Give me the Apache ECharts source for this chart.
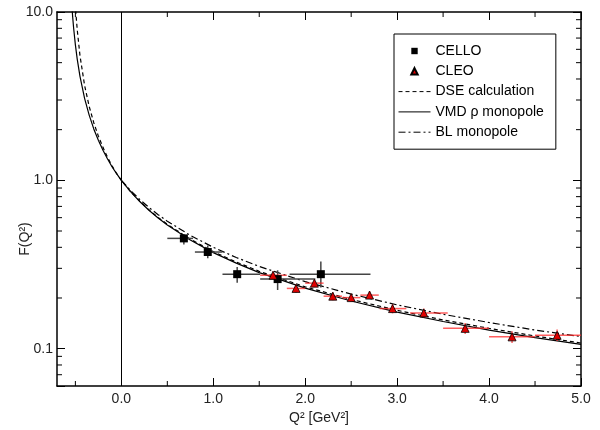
<!DOCTYPE html>
<html><head><meta charset="utf-8">
<script src="https://cdn.jsdelivr.net/npm/echarts@6/dist/echarts.min.js"></script>
<style>html,body{margin:0;padding:0;background:#fff}#c{width:600px;height:430px}</style>
</head><body><div id="c"></div>
<script>
// ---- axis ticks ----
const xMin = -0.7, xMax = 5.0, yMin = 0.06, yMax = 10;
const xMajorTicks = [0, 1, 2, 3, 4, 5];
const xMinorTicks = [-0.5, 0.5, 1.5, 2.5, 3.5, 4.5];
const yMinorTicks = [0.07, 0.08, 0.09, 0.2, 0.3, 0.4, 0.5, 0.6, 0.7, 0.8, 0.9, 2, 3, 4, 5, 6, 7, 8, 9];

// ---- CELLO data ----
const celloQ2     = [0.68, 0.94, 1.26, 1.70, 2.17];
const celloF      = [0.452, 0.375, 0.277, 0.259, 0.277];
const celloQ2Low  = [0.50, 0.80, 1.10, 1.51, 1.83];
const celloQ2High = [0.78, 1.10, 1.51, 2.11, 2.71];
const celloFLow   = [0.416, 0.344, 0.246, 0.223, 0.231];
const celloFHigh  = [0.478, 0.410, 0.306, 0.292, 0.329];

// ---- CLEO data ----
const cleoQ2     = [1.65, 1.90, 2.10, 2.30, 2.50, 2.70, 2.95, 3.29, 3.74, 4.25, 4.74];
const cleoF      = [0.273, 0.228, 0.245, 0.205, 0.201, 0.208, 0.173, 0.163, 0.132, 0.1175, 0.120];
const cleoQ2Low  = [1.51, 1.80, 2.00, 2.20, 2.40, 2.60, 2.81, 3.14, 3.50, 4.00, 4.50];
const cleoQ2High = [1.80, 2.00, 2.20, 2.40, 2.60, 2.80, 3.10, 3.55, 4.00, 4.50, 5.00];
const cleoFLow   = [0.258, 0.215, 0.232, 0.194, 0.190, 0.197, 0.162, 0.153, 0.122, 0.108, 0.111];
const cleoFHigh  = [0.288, 0.241, 0.258, 0.216, 0.212, 0.220, 0.184, 0.173, 0.142, 0.127, 0.130];

// ---- curves ----
const dseQ2 = [-0.497, -0.49, -0.48, -0.45, -0.4, -0.35, -0.3, -0.25, -0.2, -0.15, -0.1, -0.05, 0, 0.1, 0.2, 0.3, 0.4, 0.5, 0.75, 1, 1.25, 1.5, 2, 2.5, 3, 3.5, 4, 4.5, 5];
const dseF  = [10.3, 9.17, 7.86, 5.5, 3.67, 2.75, 2.2, 1.83, 1.57, 1.37, 1.215, 1.095, 1, 0.858, 0.752, 0.668, 0.602, 0.548, 0.447, 0.377, 0.327, 0.288, 0.233, 0.196, 0.169, 0.148, 0.132, 0.119, 0.108];
const vmdQ2 = [-0.535, -0.53, -0.52, -0.5, -0.48, -0.45, -0.4, -0.35, -0.3, -0.25, -0.2, -0.15, -0.1, -0.05, 0, 0.1, 0.2, 0.3, 0.4, 0.5, 0.75, 1, 1.25, 1.5, 2, 2.5, 3, 3.5, 4, 4.5, 5];
const vmdF  = [10.3, 9.42, 8.12, 6.38, 5.25, 4.15, 3.07, 2.44, 2.02, 1.73, 1.51, 1.34, 1.20, 1.092, 1, 0.856, 0.748, 0.664, 0.597, 0.543, 0.442, 0.372, 0.322, 0.283, 0.229, 0.192, 0.165, 0.145, 0.129, 0.1164, 0.106];
const blQ2  = [0, 0.1, 0.2, 0.3, 0.4, 0.5, 0.75, 1, 1.25, 1.5, 2, 2.5, 3, 3.5, 4, 4.5, 5];
const blF   = [1, 0.870, 0.770, 0.690, 0.625, 0.572, 0.471, 0.400, 0.348, 0.308, 0.250, 0.211, 0.182, 0.160, 0.143, 0.129, 0.118];

const FONT = "'Liberation Sans', Arial, sans-serif";
const zip = (a, b) => a.map((v, i) => [v, b[i]]);

function errRender(color, width) {
  return function (params, api) {
    const x = api.value(0), y = api.value(1);
    const a = api.coord([api.value(2), y]), b = api.coord([api.value(3), y]);
    const c = api.coord([x, api.value(4)]), d = api.coord([x, api.value(5)]);
    return { type: 'group', children: [
      { type: 'line', shape: { x1: a[0], y1: a[1], x2: b[0], y2: b[1] }, style: { stroke: color, lineWidth: width } },
      { type: 'line', shape: { x1: c[0], y1: c[1], x2: d[0], y2: d[1] }, style: { stroke: color, lineWidth: width } }
    ]};
  };
}

const chart = echarts.init(document.getElementById('c'), null, { renderer: 'canvas' });
const axisLineStyle = { color: '#000', width: 1.5 };
const labelStyle = { color: '#222', fontSize: 14, fontFamily: FONT };
const noSym = { opacity: 0 };

chart.setOption({
  animation: false,
  backgroundColor: '#fff',
  grid: { left: 57, top: 12, right: 19, bottom: 41, containLabel: false },
  legend: {
    orient: 'vertical', left: 394, top: 34,
    padding: [10, 12, 10, 4],
    borderColor: '#000', borderWidth: 1,
    itemWidth: 32, itemHeight: 8, itemGap: 6.3,
    lineStyle: { width: 1 },
    textStyle: { color: '#000', fontSize: 14, fontFamily: FONT, lineHeight: 14 },
    data: [
      { name: 'CELLO' },
      { name: 'CLEO' },
      { name: 'DSE calculation', itemStyle: noSym },
      { name: 'VMD ρ monopole', itemStyle: noSym },
      { name: 'BL monopole', itemStyle: noSym }
    ]
  },
  xAxis: [
    { type: 'value', min: xMin, max: xMax, position: 'bottom',
      axisLine: { onZero: false, lineStyle: axisLineStyle },
      axisTick: { inside: true, length: 8, customValues: xMajorTicks, lineStyle: { color: '#000', width: 1 } },
      axisLabel: Object.assign({ customValues: xMajorTicks, margin: 6, formatter: v => v.toFixed(1) }, labelStyle),
      splitLine: { show: false },
      name: 'Q² [GeV²]', nameLocation: 'middle', nameGap: 25,
      nameTextStyle: { color: '#222', fontSize: 14, fontFamily: FONT } },
    { type: 'value', min: xMin, max: xMax, position: 'top',
      axisLine: { onZero: false, lineStyle: axisLineStyle },
      axisTick: { inside: true, length: 8, customValues: xMajorTicks, lineStyle: { color: '#000', width: 1 } },
      axisLabel: { show: false }, splitLine: { show: false } }
  ],
  yAxis: [
    { type: 'log', logBase: 10, min: yMin, max: yMax, position: 'left',
      axisLine: { onZero: false, lineStyle: axisLineStyle },
      axisTick: { inside: true, length: 8, lineStyle: { color: '#000', width: 1 } },
      axisLabel: Object.assign({ margin: 4, formatter: v => { const l = Math.log10(v); return Math.abs(l - Math.round(l)) < 1e-6 ? v.toFixed(1) : ''; } }, labelStyle),
      splitLine: { show: false } },
    { type: 'log', logBase: 10, min: yMin, max: yMax, position: 'right',
      axisLine: { onZero: false, lineStyle: axisLineStyle },
      axisTick: { inside: true, length: 8, lineStyle: { color: '#000', width: 1 } },
      axisLabel: { show: false }, splitLine: { show: false } }
  ],
  graphic: [
    { type: 'text', x: 25, y: 239, rotation: Math.PI / 2,
      style: { text: 'F(Q²)', font: '14px ' + FONT, fill: '#222', textAlign: 'center', textVerticalAlign: 'middle' } }
  ],
  series: [
    { name: 'xMinorTicks', type: 'custom', silent: true, z: 1,
      data: xMinorTicks.map(v => [v, 1]),
      renderItem: (p, api) => {
        const b = api.coord([api.value(0), yMin]), t = api.coord([api.value(0), yMax]);
        return { type: 'group', children: [
          { type: 'line', shape: { x1: b[0], y1: b[1], x2: b[0], y2: b[1] - 5 }, style: { stroke: '#000', lineWidth: 1 } },
          { type: 'line', shape: { x1: t[0], y1: t[1], x2: t[0], y2: t[1] + 5 }, style: { stroke: '#000', lineWidth: 1 } }
        ]};
      } },
    { name: 'yMinorTicks', type: 'custom', silent: true, z: 1,
      data: yMinorTicks.map(v => [0, v]),
      renderItem: (p, api) => {
        const l = api.coord([xMin, api.value(1)]), r = api.coord([xMax, api.value(1)]);
        return { type: 'group', children: [
          { type: 'line', shape: { x1: l[0], y1: l[1], x2: l[0] + 5, y2: l[1] }, style: { stroke: '#000', lineWidth: 1 } },
          { type: 'line', shape: { x1: r[0], y1: r[1], x2: r[0] - 5, y2: r[1] }, style: { stroke: '#000', lineWidth: 1 } }
        ]};
      } },
    { name: 'DSE calculation', type: 'line', data: zip(dseQ2, dseF), symbol: 'none', clip: true, z: 3,
      lineStyle: { color: '#000', width: 1.2, type: [4, 3] } },
    { name: 'VMD ρ monopole', type: 'line', data: zip(vmdQ2, vmdF), symbol: 'none', clip: true, z: 3,
      lineStyle: { color: '#000', width: 1.2, type: 'solid' },
      markLine: { silent: true, symbol: ['none', 'none'], label: { show: false },
        lineStyle: { color: '#000', width: 1, type: 'solid' }, data: [{ xAxis: 0 }] } },
    { name: 'BL monopole', type: 'line', data: zip(blQ2, blF), symbol: 'none', clip: true, z: 3,
      lineStyle: { color: '#000', width: 1.2, type: [7, 3, 2, 3] } },
    { name: 'CELLO err', type: 'custom', z: 4, silent: true,
      data: celloQ2.map((q, i) => [q, celloF[i], celloQ2Low[i], celloQ2High[i], celloFLow[i], celloFHigh[i]]),
      encode: { x: 0, y: 1 }, renderItem: errRender('#444', 1.5) },
    { name: 'CLEO err', type: 'custom', z: 4, silent: true,
      data: cleoQ2.map((q, i) => [q, cleoF[i], cleoQ2Low[i], cleoQ2High[i], cleoFLow[i], cleoFHigh[i]]),
      encode: { x: 0, y: 1 }, renderItem: errRender('rgba(255,40,40,0.75)', 1.5) },
    { name: 'CELLO', type: 'line', data: zip(celloQ2, celloF), z: 5,
      symbol: 'rect', symbolSize: 8, showSymbol: true,
      lineStyle: { opacity: 0, width: 0 }, itemStyle: { color: '#000' } },
    { name: 'CLEO', type: 'line', data: zip(cleoQ2, cleoF), z: 5,
      symbol: 'triangle', symbolSize: 8, showSymbol: true,
      lineStyle: { opacity: 0, width: 0 }, itemStyle: { color: '#e00000', borderColor: '#000', borderWidth: 0.8 } }
  ]
});
</script>
</body></html>
